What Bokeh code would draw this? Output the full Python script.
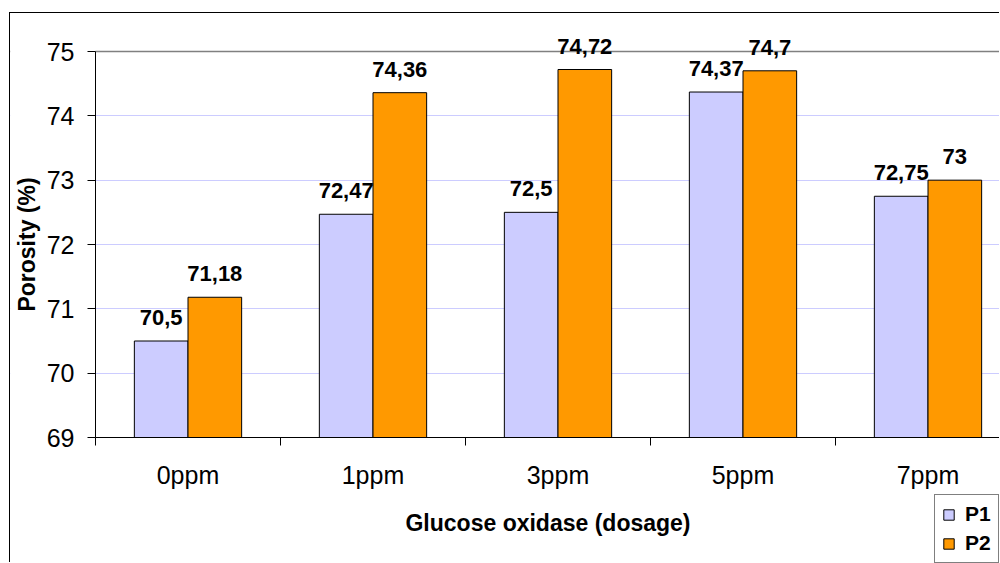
from bokeh.plotting import figure
from bokeh.models import (ColumnDataSource, LabelSet, Legend, LegendItem, FixedTicker, Grid,
                          BoxAnnotation)
from bokeh.core.properties import value
from bokeh.transform import dodge
from bokeh.embed import file_html
from bokeh.resources import INLINE

categories = ["0ppm", "1ppm", "3ppm", "5ppm", "7ppm"]
p1_values = [70.5, 72.47, 72.5, 74.37, 72.75]
p2_values = [71.18, 74.36, 74.72, 74.7, 73]
y_ticks = [69, 70, 71, 72, 73, 74, 75]

def fmt(v):
    return f"{v:g}".replace(".", ",")

idx = list(range(len(categories)))
src = ColumnDataSource(dict(
    x=idx, p1=p1_values, p2=p2_values,
    l1=[fmt(v) for v in p1_values], l2=[fmt(v) for v in p2_values],
))

FONT = "Liberation Sans"
BW = 0.29

# layout (pixels): canvas 990x550; plot area left 85, top 38, bottom 424
W, H = 990, 550
PA_L, PA_T, PA_B = 85, 38, 424
CAT_PX = 185.0
y_lo, y_hi = y_ticks[0], y_ticks[-1]
px_per_y = (PA_B - PA_T) / (y_hi - y_lo)
x0 = -0.5
x_start = x0 - PA_L / CAT_PX
x_end = x0 + (W - PA_L) / CAT_PX
y_start = y_lo - (H - PA_B) / px_per_y
y_end = y_hi + PA_T / px_per_y

p = figure(width=W, height=H, x_range=(x_start, x_end), y_range=(y_start, y_end),
           output_backend="svg", toolbar_location=None,
           min_border_left=0, min_border_top=0, min_border_bottom=0, min_border_right=0)
p.styles = {"margin-left": "9px", "margin-top": "12px",
            "border-left": "1px solid #000", "border-top": "1px solid #000"}
p.outline_line_color = None
p.background_fill_color = "white"
p.border_fill_color = "white"

p.xgrid.visible = False
p.ygrid.ticker = FixedTicker(ticks=y_ticks[1:-1])
p.ygrid.grid_line_color = "#ccccff"
p.add_layout(Grid(dimension=1, ticker=FixedTicker(ticks=[y_hi]),
                  grid_line_color="#808080", grid_line_width=1.5))
# keep the grid inside the plot area (nothing left of the value axis)
p.add_layout(BoxAnnotation(right=x0, fill_color="white", fill_alpha=1, line_color=None,
                           level="underlay"))

r1 = p.vbar(x=dodge("x", -BW / 2, range=p.x_range), top="p1", bottom=y_lo, width=BW,
            source=src, fill_color="#ccccff", line_color="black", line_width=1)
r2 = p.vbar(x=dodge("x", BW / 2, range=p.x_range), top="p2", bottom=y_lo, width=BW,
            source=src, fill_color="#ff9900", line_color="black", line_width=1)

for col, lab, off in (("p1", "l1", -BW / 2), ("p2", "l2", BW / 2)):
    ls = LabelSet(x=dodge("x", off, range=p.x_range), y=col, text=lab, source=src,
                  text_align="center", text_baseline="alphabetic", y_offset=16,
                  text_font=value(FONT), text_font_size="22px", text_font_style="bold",
                  text_color="black")
    p.add_layout(ls)

yax = p.yaxis[0]
yax.fixed_location = x0
yax.bounds = (y_lo, y_hi)
yax.ticker = FixedTicker(ticks=y_ticks)
yax.major_tick_out = 8
yax.major_tick_in = 0
yax.minor_tick_out = 0
yax.minor_tick_in = 0
yax.axis_line_color = "black"
yax.major_tick_line_color = "black"
yax.major_label_standoff = 13
yax.major_label_text_font = FONT
yax.major_label_text_font_size = "25px"
yax.major_label_text_color = "black"
yax.axis_label = "Porosity (%)"
yax.axis_label_text_font = FONT
yax.axis_label_text_font_size = "23px"
yax.axis_label_text_font_style = "bold"
yax.axis_label_text_color = "black"
yax.axis_label_standoff = 4

xax = p.xaxis[0]
xax.fixed_location = y_lo
xax.bounds = (x0, x_end)
xax.ticker = FixedTicker(ticks=idx, minor_ticks=[i - 0.5 for i in idx] + [idx[-1] + 0.5])
xax.major_label_overrides = {i: c for i, c in zip(idx, categories)}
xax.major_tick_out = 0
xax.major_tick_in = 0
xax.minor_tick_out = 8
xax.minor_tick_in = 0
xax.minor_tick_line_color = "black"
xax.axis_line_color = "black"
xax.major_label_standoff = 15
xax.major_label_text_font = FONT
xax.major_label_text_font_size = "25px"
xax.major_label_text_color = "black"
xax.axis_label = "Glucose oxidase (dosage)"
xax.axis_label_text_font = FONT
xax.axis_label_text_font_size = "23px"
xax.axis_label_text_font_style = "bold"
xax.axis_label_text_color = "black"
xax.axis_label_standoff = 18

legend = Legend(items=[LegendItem(label="P1", renderers=[r1]), LegendItem(label="P2", renderers=[r2])],
                location=(924, 0), orientation="vertical")
legend.border_line_color = "black"
legend.border_line_width = 1
legend.background_fill_color = "white"
legend.background_fill_alpha = 1
legend.label_text_font = FONT
legend.label_text_font_size = "21px"
legend.label_text_font_style = "bold"
legend.label_text_color = "black"
legend.glyph_width = 13
legend.glyph_height = 13
legend.label_height = 22
legend.label_standoff = 10
legend.spacing = 5
legend.padding = 7
legend.margin = 0
p.add_layout(legend)

open("out.html", "w").write(file_html(p, INLINE))
